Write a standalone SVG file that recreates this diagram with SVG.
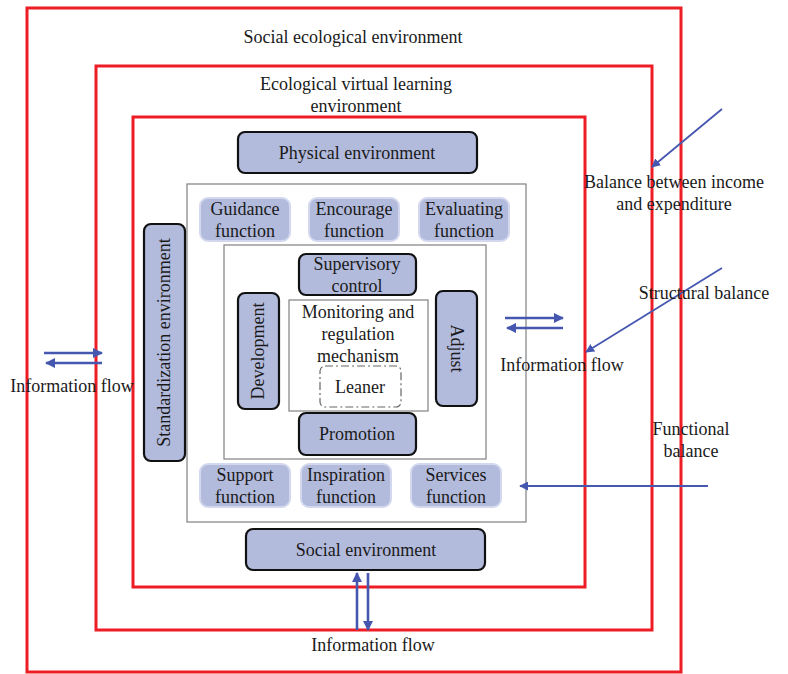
<svg xmlns="http://www.w3.org/2000/svg" width="788" height="674" viewBox="0 0 788 674" font-family="Times New Roman, Liberation Serif, DejaVu Serif, serif">
<defs>
<style>
text{font-size:18px;fill:#1a1a1a;text-anchor:middle}
.red{fill:none;stroke:#ee1c24;stroke-width:3}
.grey{fill:#fff;stroke:#808080;stroke-width:1.2}
.dark{fill:#b3bbdd;stroke:#111;stroke-width:2.2}
.func{fill:#b3bbdd;stroke:#d3d8ee;stroke-width:2}
.arr{stroke:#4657b0;stroke-width:2.6;fill:none}
.arrt{stroke:#4657b0;stroke-width:1.8;fill:none}
</style>
<marker id="ah" viewBox="0 0 10 10" refX="9" refY="5" markerWidth="4" markerHeight="4" orient="auto" markerUnits="strokeWidth"><path d="M0,0L10,5L0,10z" fill="#4657b0"/></marker>
<marker id="ahs" viewBox="0 0 10 10" refX="9" refY="5" markerWidth="5" markerHeight="5" orient="auto" markerUnits="strokeWidth"><path d="M0,0L10,5L0,10z" fill="#4657b0"/></marker>
</defs>
<rect width="788" height="674" fill="#fff"/>
<g id="frames">
<rect class="red" x="27" y="8" width="654" height="664"/>
<rect class="red" x="96" y="66" width="556" height="564"/>
<rect class="red" x="133" y="117" width="452" height="470"/>
<rect class="grey" x="187" y="184" width="339" height="338"/>
<rect class="grey" x="224" y="245" width="262" height="214"/>
<rect class="grey" x="289" y="300" width="139" height="111"/>
</g>
<g id="labels">
<text x="353" y="43">Social ecological environment</text>
<text x="356" y="90">Ecological virtual learning</text>
<text x="356" y="112">environment</text>
</g>
<g id="physical"><rect class="dark" x="238" y="132" width="239" height="41" rx="7"/><text x="357" y="159">Physical environment</text></g>
<g id="social"><rect class="dark" x="246" y="529" width="239" height="41" rx="7"/><text x="366" y="556">Social environment</text></g>
<g id="standardization"><rect class="dark" x="144" y="224" width="41" height="237" rx="7"/><text transform="translate(170,342.5) rotate(-90)">Standardization environment</text></g>
<g id="guidance"><rect class="func" x="200" y="198" width="90" height="43" rx="8"/><text x="245" y="215">Guidance</text><text x="245" y="237">function</text></g>
<g id="encourage"><rect class="func" x="309" y="198" width="90" height="43" rx="8"/><text x="354" y="215">Encourage</text><text x="354" y="237">function</text></g>
<g id="evaluating"><rect class="func" x="419" y="198" width="90" height="43" rx="8"/><text x="464" y="215">Evaluating</text><text x="464" y="237">function</text></g>
<g id="support"><rect class="func" x="200" y="464" width="90" height="43" rx="8"/><text x="245" y="481">Support</text><text x="245" y="503">function</text></g>
<g id="inspiration"><rect class="func" x="301" y="464" width="90" height="43" rx="8"/><text x="346" y="481">Inspiration</text><text x="346" y="503">function</text></g>
<g id="services"><rect class="func" x="411" y="464" width="90" height="43" rx="8"/><text x="456" y="481">Services</text><text x="456" y="503">function</text></g>
<g id="supervisory"><rect class="dark" x="299" y="254" width="117" height="41" rx="7"/><text x="357" y="270">Supervisory</text><text x="357" y="292">control</text></g>
<g id="development"><rect class="dark" x="238" y="293" width="41" height="116" rx="7"/><text transform="translate(264,351) rotate(-90)">Development</text></g>
<g id="adjust"><rect class="dark" x="436" y="291" width="41" height="115" rx="7"/><text transform="translate(451,348.5) rotate(90)">Adjust</text></g>
<g id="promotion"><rect class="dark" x="299" y="413" width="117" height="42" rx="7"/><text x="357" y="440">Promotion</text></g>
<g id="monitoring"><text x="358" y="318">Monitoring and</text><text x="358" y="340">regulation</text><text x="358" y="362">mechanism</text></g>
<g id="leaner"><rect x="320" y="366" width="81" height="41" rx="5" fill="none" stroke="#666" stroke-width="1.2" stroke-dasharray="8,3,2,3"/><text x="360" y="393">Leaner</text></g>
<g id="connectors">
<line class="arr" x1="44" y1="353" x2="102" y2="353" marker-end="url(#ah)"/>
<line class="arr" x1="102" y1="363" x2="46" y2="363" marker-end="url(#ah)"/>
<line class="arr" x1="505" y1="318" x2="563" y2="318" marker-end="url(#ah)"/>
<line class="arr" x1="563" y1="328" x2="507" y2="328" marker-end="url(#ah)"/>
<line class="arr" x1="357" y1="630" x2="357" y2="573" marker-end="url(#ah)"/>
<line class="arr" x1="368" y1="573" x2="368" y2="630" marker-end="url(#ah)"/>
<line class="arrt" x1="722" y1="109" x2="652" y2="167" marker-end="url(#ahs)"/>
<line class="arrt" x1="722" y1="268" x2="586" y2="352" marker-end="url(#ahs)"/>
<line class="arrt" x1="708" y1="486" x2="520" y2="486" marker-end="url(#ahs)"/>
</g>
<g id="annotations">
<text x="72" y="392">Information flow</text>
<text x="562" y="371">Information flow</text>
<text x="373" y="651">Information flow</text>
<text x="674" y="188">Balance between income</text>
<text x="674" y="210">and expenditure</text>
<text x="704" y="299">Structural balance</text>
<text x="691" y="435">Functional</text>
<text x="691" y="457">balance</text>
</g>
</svg>
